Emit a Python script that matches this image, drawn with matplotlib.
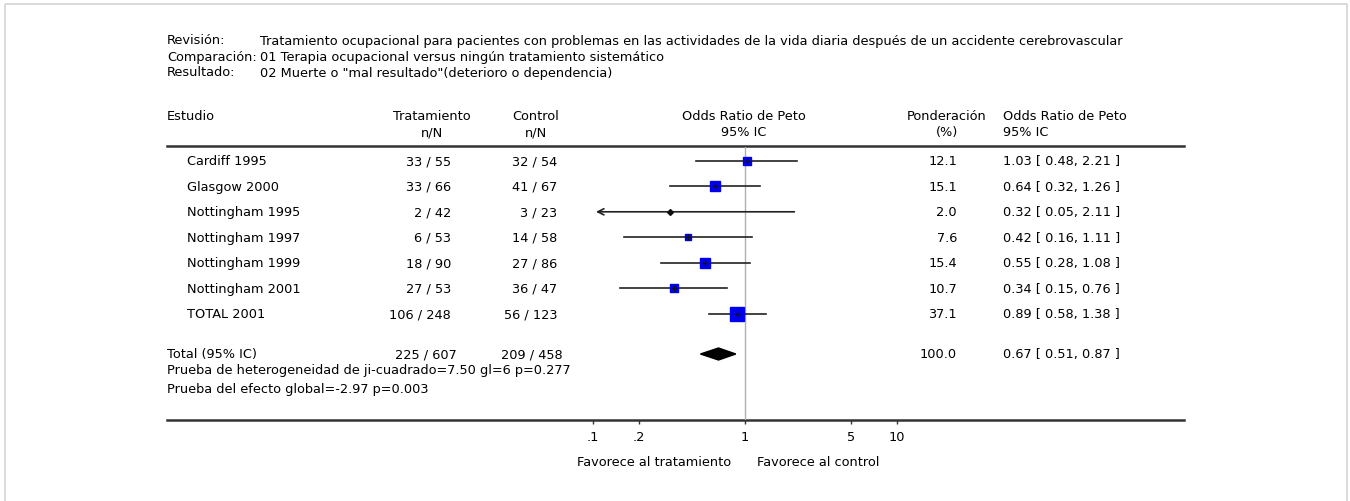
import numpy as np
import matplotlib
matplotlib.use("Agg")
import matplotlib.pyplot as plt
from matplotlib.patches import Rectangle, Polygon

plt.rcParams['font.family'] = ['DejaVu Sans']

# Data
studies = ["Cardiff 1995", "Glasgow 2000", "Nottingham 1995", "Nottingham 1997",
           "Nottingham 1999", "Nottingham 2001", "TOTAL 2001"]
treat = ["33 / 55", "33 / 66", "2 / 42", "6 / 53", "18 / 90", "27 / 53", "106 / 248"]
control = ["32 / 54", "41 / 67", "3 / 23", "14 / 58", "27 / 86", "36 / 47", "56 / 123"]
weights = [12.1, 15.1, 2.0, 7.6, 15.4, 10.7, 37.1]
odds = [1.03, 0.64, 0.32, 0.42, 0.55, 0.34, 0.89]
ci_low = [0.48, 0.32, 0.05, 0.16, 0.28, 0.15, 0.58]
ci_high = [2.21, 1.26, 2.11, 1.11, 1.08, 0.76, 1.38]

total_treat = "225 / 607"
total_control = "209 / 458"
total_weight = 100.0
total_or = 0.67
total_low = 0.51
total_high = 0.87

tick_vals = [0.1, 0.2, 1, 5, 10]
tick_labels = [".1", ".2", "1", "5", "10"]

header_rows = [
    ("Revisión:", "Tratamiento ocupacional para pacientes con problemas en las actividades "
                  "de la vida diaria después de un accidente cerebrovascular"),
    ("Comparación:", "01 Terapia ocupacional versus ningún tratamiento sistemático"),
    ("Resultado:", '02 Muerte o "mal resultado"(deterioro o dependencia)'),
]

# Layout (pixels)
W, H = 1350, 502
FS = 9.3
VA = 'center_baseline'
DY = -1.5
ROW0, PITCH = 161.7, 25.55
TOTAL_Y = 355
X_DECADE_LO, X_DECADE_HI = 592.7, 897.3   # pixel x of 0.1 and 10
PLOT_TOP, PLOT_BOT = 148, 421

fig = plt.figure(figsize=(W / 100, H / 100), dpi=100)
base = fig.add_axes([0, 0, 1, 1])
base.set_xlim(0, W)
base.set_ylim(H, 0)
base.axis('off')


def txt(x, y, s, ha='left'):
    base.text(x, y + DY, s, fontsize=FS, va=VA, ha=ha)


# light frame
base.add_patch(Rectangle((5, 5), 1342, 520, fill=False, edgecolor='#d4d4d4', lw=1.2))

# title block
for i, (lab, val) in enumerate(header_rows):
    y = 41 + 16 * i
    txt(167, y, lab)
    txt(260, y, val)

# column headers
txt(167, 116, "Estudio")
txt(432, 116, "Tratamiento", 'center')
txt(432, 133, "n/N", 'center')
txt(536, 116, "Control", 'center')
txt(536, 133, "n/N", 'center')
txt(744, 116, "Odds Ratio de Peto", 'center')
txt(744, 133, "95% IC", 'center')
txt(947, 116, "Ponderación", 'center')
txt(947, 133, "(%)", 'center')
txt(1003, 116, "Odds Ratio de Peto")
txt(1003, 133, "95% IC")

base.plot([167, 1184], [146.7, 146.7], color='#333333', lw=1.8)
base.plot([167, 1184], [PLOT_BOT, PLOT_BOT], color='#333333', lw=1.8)

# study rows
for i in range(len(studies)):
    y = ROW0 + PITCH * i
    txt(187, y, studies[i])
    txt(451, y, treat[i], 'right')
    txt(557, y, control[i], 'right')
    txt(957, y, f"{weights[i]:.1f}", 'right')
    txt(1003, y, f"{odds[i]:.2f} [ {ci_low[i]:.2f}, {ci_high[i]:.2f} ]")

# total row
txt(167, TOTAL_Y, "Total (95% IC)")
txt(457, TOTAL_Y, total_treat, 'right')
txt(563, TOTAL_Y, total_control, 'right')
txt(957, TOTAL_Y, f"{total_weight:.1f}", 'right')
txt(1003, TOTAL_Y, f"{total_or:.2f} [ {total_low:.2f}, {total_high:.2f} ]")
txt(167, 371, "Prueba de heterogeneidad de ji-cuadrado=7.50 gl=6 p=0.277")
txt(167, 390, "Prueba del efecto global=-2.97 p=0.003")

txt(731, 463, "Favorece al tratamiento", 'right')
txt(757, 463, "Favorece al control")

# forest axes (log x, pixel y)
ax = fig.add_axes([X_DECADE_LO / W, 1 - PLOT_BOT / H,
                   (X_DECADE_HI - X_DECADE_LO) / W, (PLOT_BOT - PLOT_TOP) / H])
ax.set_xscale('log')
ax.set_xlim(0.1, 10)
ax.set_ylim(PLOT_BOT, PLOT_TOP)
ax.patch.set_alpha(0)
for s in ax.spines.values():
    s.set_visible(False)
ax.set_yticks([])
ax.minorticks_off()
ax.set_xticks(tick_vals)
ax.set_xticklabels(tick_labels, fontsize=FS)
ax.tick_params(axis='x', length=3, width=1, color='#333333', pad=4)

ax.axvline(1, color='#b0b0b0', lw=1, zorder=1)

xmin = 0.105
for i in range(len(studies)):
    y = ROW0 + PITCH * i
    lo = ci_low[i]
    if lo < xmin:
        ax.annotate('', xy=(xmin, y), xytext=(ci_high[i], y),
                    arrowprops=dict(arrowstyle='->', color='#222222', lw=1.2,
                                    shrinkA=0, shrinkB=0, mutation_scale=11))
    else:
        ax.plot([lo, ci_high[i]], [y, y], color='#222222', lw=1.2, zorder=2)
    side = 2.46 * np.sqrt(weights[i]) * 0.72
    if weights[i] < 3:
        ax.plot(odds[i], y, marker='D', ms=3, color='#111111', zorder=3)
    else:
        ax.plot(odds[i], y, marker='s', ms=side, color='#0000ee', mec='#0000ee', zorder=3)
        ax.plot(odds[i], y, marker='+', ms=4, mew=1, color='#111111', zorder=4)

# pooled diamond
dh = 6
ax.add_patch(Polygon([[total_low, TOTAL_Y], [total_or, TOTAL_Y - dh],
                      [total_high, TOTAL_Y], [total_or, TOTAL_Y + dh]],
                     closed=True, facecolor='black', edgecolor='black', zorder=3))

fig.savefig("out.png", dpi=100)
